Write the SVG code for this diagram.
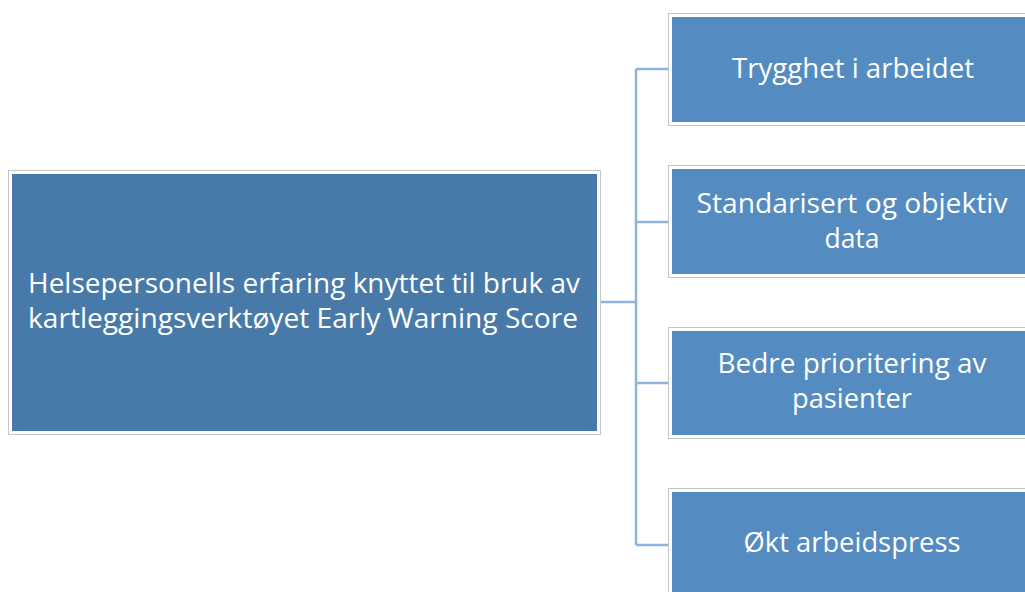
<svg xmlns="http://www.w3.org/2000/svg" width="1025" height="592" viewBox="0 0 1025 592">
<style>
.frame{fill:none;stroke:#c4c4c4;stroke-width:1}
.main{fill:#477aa8;stroke:#ffffff;stroke-width:3}
.sub{fill:#548cc1;stroke:#ffffff;stroke-width:3}
.t{font-family:"Open Sans","Noto Sans","Liberation Sans",sans-serif;font-size:27px;fill:#ffffff;text-anchor:middle}
.conn{fill:none;stroke:#8eb4de;stroke-width:2.5}
</style>
<rect width="1025" height="592" fill="#ffffff"/>
<g id="connectors">
<path class="conn" d="M600 302 H636 M636 69 V545 M636 69 H669 M636 222 H669 M636 383 H669 M636 545 H669"/>
</g>
<g id="main">
<rect class="frame" x="8.5" y="170.5" width="592" height="264"/>
<rect class="main" x="10.5" y="172.5" width="588" height="260"/>
<text class="t" x="304" y="293" textLength="552" lengthAdjust="spacingAndGlyphs">Helsepersonells erfaring knyttet til bruk av</text>
<text class="t" x="303" y="328" textLength="550" lengthAdjust="spacingAndGlyphs">kartleggingsverktøyet Early Warning Score</text>
</g>
<g id="n1">
<rect class="frame" x="668.5" y="13.5" width="380" height="112"/>
<rect class="sub" x="670.5" y="15.5" width="376" height="108"/>
<text class="t" x="853" y="78" textLength="242" lengthAdjust="spacingAndGlyphs">Trygghet i arbeidet</text>
</g>
<g id="n2">
<rect class="frame" x="668.5" y="165.5" width="380" height="112"/>
<rect class="sub" x="670.5" y="167.5" width="376" height="108"/>
<text class="t" x="852" y="213" textLength="311" lengthAdjust="spacingAndGlyphs">Standarisert og objektiv</text>
<text class="t" x="852" y="248" textLength="55" lengthAdjust="spacingAndGlyphs">data</text>
</g>
<g id="n3">
<rect class="frame" x="668.5" y="327.5" width="380" height="111"/>
<rect class="sub" x="670.5" y="329.5" width="376" height="107"/>
<text class="t" x="852" y="373" textLength="269" lengthAdjust="spacingAndGlyphs">Bedre prioritering av</text>
<text class="t" x="852" y="408" textLength="120" lengthAdjust="spacingAndGlyphs">pasienter</text>
</g>
<g id="n4">
<rect class="frame" x="668.5" y="488.5" width="380" height="112"/>
<rect class="sub" x="670.5" y="490.5" width="376" height="108"/>
<text class="t" x="852" y="552" textLength="217" lengthAdjust="spacingAndGlyphs">Økt arbeidspress</text>
</g>
</svg>
